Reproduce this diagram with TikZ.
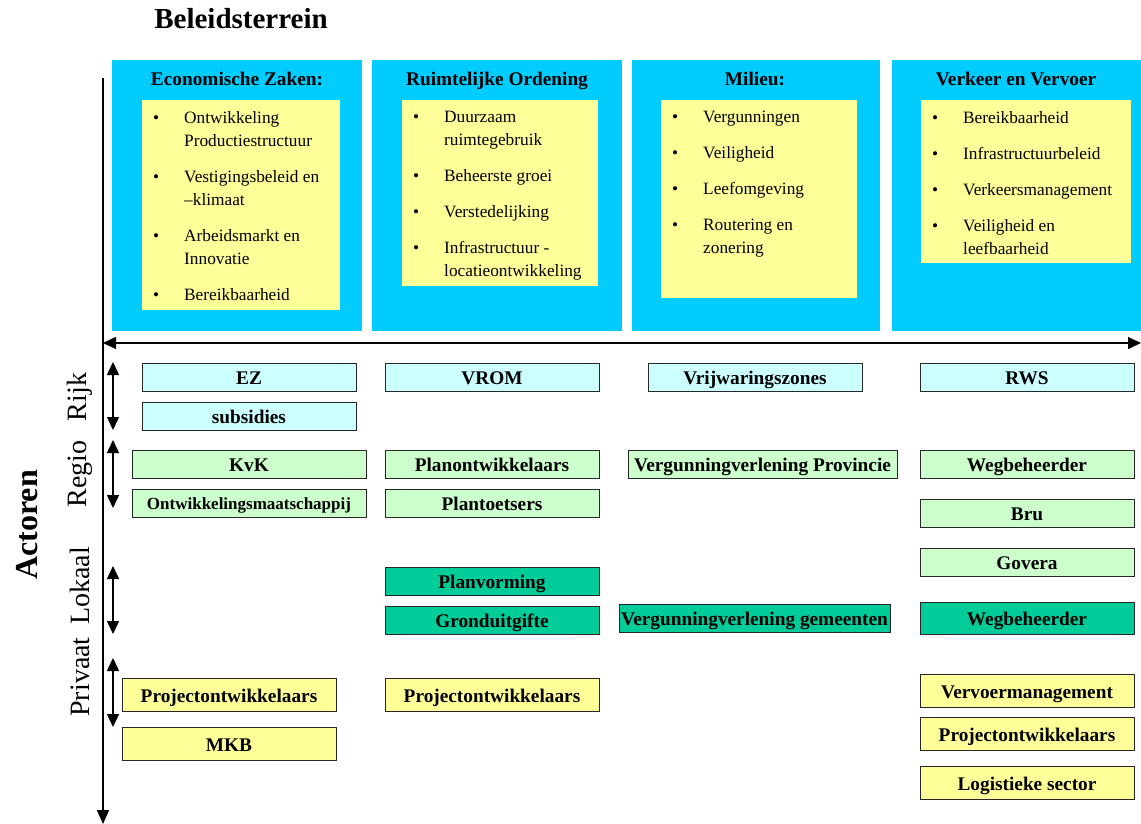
\documentclass[tikz,border=0pt]{standalone}
\usepackage{fontspec}
\setmainfont{Liberation Serif}
\usetikzlibrary{arrows.meta}
\definecolor{kolomblauw}{HTML}{00CCFF}
\definecolor{notegeel}{HTML}{FFFF99}
\definecolor{rijkblauw}{HTML}{CCFFFF}
\definecolor{regiogroen}{HTML}{CCFFCC}
\definecolor{lokaalgroen}{HTML}{00CC99}
% bulleted item inside a yellow box
\newcommand{\punt}[1]{\par\noindent\hangindent=42pt\hangafter=1\hspace*{11pt}\makebox[31pt][l]{\textbullet}#1\par}
\newcommand{\lijst}[3]{\parbox[c][#2][t]{#1}{\fontsize{17.3}{23}\selectfont\parskip=13pt\vspace*{-2pt}#3}}
\tikzset{
    kolom/.style={fill=kolomblauw, anchor=north west, inner sep=0pt,
            minimum height=271pt},
    kop/.style={font=\fontsize{19.3}{20}\selectfont\bfseries, inner sep=0pt,
            text height=13pt, text depth=0pt},
    lijstvak/.style={fill=notegeel, anchor=north west, inner sep=0pt},
    actor/.style={draw=black!85, line width=1pt, minimum height=28pt,
            minimum width=214pt, inner sep=0pt,
            text height=14.5pt, text depth=0.5pt,
            font=\fontsize{19.3}{20}\selectfont\bfseries},
    rijk/.style={actor, fill=rijkblauw},
    regio/.style={actor, fill=regiogroen},
    lokaal/.style={actor, fill=lokaalgroen},
    privaat/.style={actor, fill=notegeel, minimum height=33pt},
    niveau/.style={rotate=90, inner sep=0pt, font=\fontsize{28}{30}\selectfont},
    as/.style={line width=1.5pt, -{Triangle[length=14pt,width=12pt]}},
    bereik/.style={line width=1.5pt, {Triangle[length=13pt,width=12pt]}-{Triangle[length=13pt,width=12pt]}}
}
\begin{document}
\begin{tikzpicture}[x=1pt,y=-1pt]
\useasboundingbox (0,0) rectangle (1141,824);

% beleidsterreinen
\node[font=\fontsize{29}{30}\selectfont\bfseries, inner sep=0pt] (beleid) at (241,19) {Beleidsterrein};

\node[kolom, minimum width=250pt] (ez) at (112,60) {};
\node[kolom, minimum width=250pt] (ro) at (372,60) {};
\node[kolom, minimum width=248pt] (mil) at (632,60) {};
\node[kolom, minimum width=249pt] (vv) at (892,60) {};

\node[kop] (ezkop) at (237,79) {Economische Zaken:};
\node[kop] (rokop) at (497,79) {Ruimtelijke Ordening};
\node[kop] (milkop) at (755,79) {Milieu:};
\node[kop] (vvkop) at (1016,79) {Verkeer en Vervoer};

\node[lijstvak] (ezlijst) at (142,100) {\lijst{198pt}{210pt}{%
    \punt{Ontwikkeling\newline Productiestructuur}
    \punt{Vestigingsbeleid en\newline --klimaat}
    \punt{Arbeidsmarkt en\newline Innovatie}
    \punt{Bereikbaarheid}}};
\node[lijstvak] (rolijst) at (402,100) {\lijst{196pt}{186pt}{%
    \punt{Duurzaam\newline ruimtegebruik}
    \punt{Beheerste groei}
    \punt{Verstedelijking}
    \punt{Infrastructuur -\newline locatieontwikkeling}}};
\node[lijstvak] (millijst) at (661,100) {\lijst{196pt}{198pt}{%
    \punt{Vergunningen}
    \punt{Veiligheid}
    \punt{Leefomgeving}
    \punt{Routering en\newline zonering}}};
\node[lijstvak] (vvlijst) at (921,100) {\lijst{210pt}{163pt}{%
    \punt{Bereikbaarheid}
    \punt{Infrastructuurbeleid}
    \punt{Verkeersmanagement}
    \punt{Veiligheid en\newline leefbaarheid}}};

% assen
\coordinate (asboven) at (103,78);
\coordinate (asonder) at (103,824);
\coordinate (aslinks) at (103,343);
\coordinate (asrechts) at (1141,343);
\draw[as] (asboven) -- (asonder);
\draw[bereik] (aslinks) -- (asrechts);

\node[font=\fontsize{32}{34}\selectfont\bfseries, rotate=90, inner sep=0pt] (actoren) at (27,525) {Actoren};

% niveaus
\node[niveau] (rijklabel) at (80,397) {Rijk};
\node[niveau] (regiolabel) at (80,474) {Regio};
\node[niveau] (lokaallabel) at (80,586) {Lokaal};
\node[niveau] (privaatlabel) at (80,677) {Privaat};

\coordinate (rijk1) at (113,362);   \coordinate (rijk2) at (113,430);
\coordinate (regio1) at (113,440);  \coordinate (regio2) at (113,508);
\coordinate (lokaal1) at (113,566); \coordinate (lokaal2) at (113,634);
\coordinate (priv1) at (113,658);   \coordinate (priv2) at (113,727);
\draw[bereik] (rijk1) -- (rijk2);
\draw[bereik] (regio1) -- (regio2);
\draw[bereik] (lokaal1) -- (lokaal2);
\draw[bereik] (priv1) -- (priv2);

% rijk
\node[rijk] (ezrijk) at (249,377) {EZ};
\node[rijk] (subsidies) at (249,416) {subsidies};
\node[rijk] (vrom) at (492,377) {VROM};
\node[rijk] (vrijwaring) at (755,377) {Vrijwaringszones};
\node[rijk] (rws) at (1027,377) {RWS};

% regio
\node[regio, minimum width=234pt] (kvk) at (249,464) {KvK};
\node[regio, minimum width=234pt, text height=13pt,
      font=\fontsize{17}{18}\selectfont\bfseries] (ontwmij) at (249,503) {Ontwikkelingsmaatschappij};
\node[regio] (planontw) at (492,464) {Planontwikkelaars};
\node[regio] (plantoets) at (492,503) {Plantoetsers};
\node[regio, minimum width=269pt] (vergprov) at (762.5,464) {Vergunningverlening Provincie};
\node[regio] (wegregio) at (1027,464) {Wegbeheerder};
\node[regio] (bru) at (1027,513) {Bru};
\node[regio] (govera) at (1027,562) {Govera};

% lokaal
\node[lokaal] (planvorming) at (492,581) {Planvorming};
\node[lokaal] (gronduitgifte) at (492,620) {Gronduitgifte};
\node[lokaal, minimum width=271pt] (verggem) at (754.5,618) {Vergunningverlening gemeenten};
\node[lokaal, minimum height=32pt] (weglokaal) at (1027,618) {Wegbeheerder};

% privaat
\node[privaat] (projontw1) at (229,695) {Projectontwikkelaars};
\node[privaat] (mkb) at (229,744) {MKB};
\node[privaat] (projontw2) at (492,695) {Projectontwikkelaars};
\node[privaat] (vervoer) at (1027,691) {Vervoermanagement};
\node[privaat] (projontw3) at (1027,734) {Projectontwikkelaars};
\node[privaat] (logistiek) at (1027,783) {Logistieke sector};
\end{tikzpicture}
\end{document}
